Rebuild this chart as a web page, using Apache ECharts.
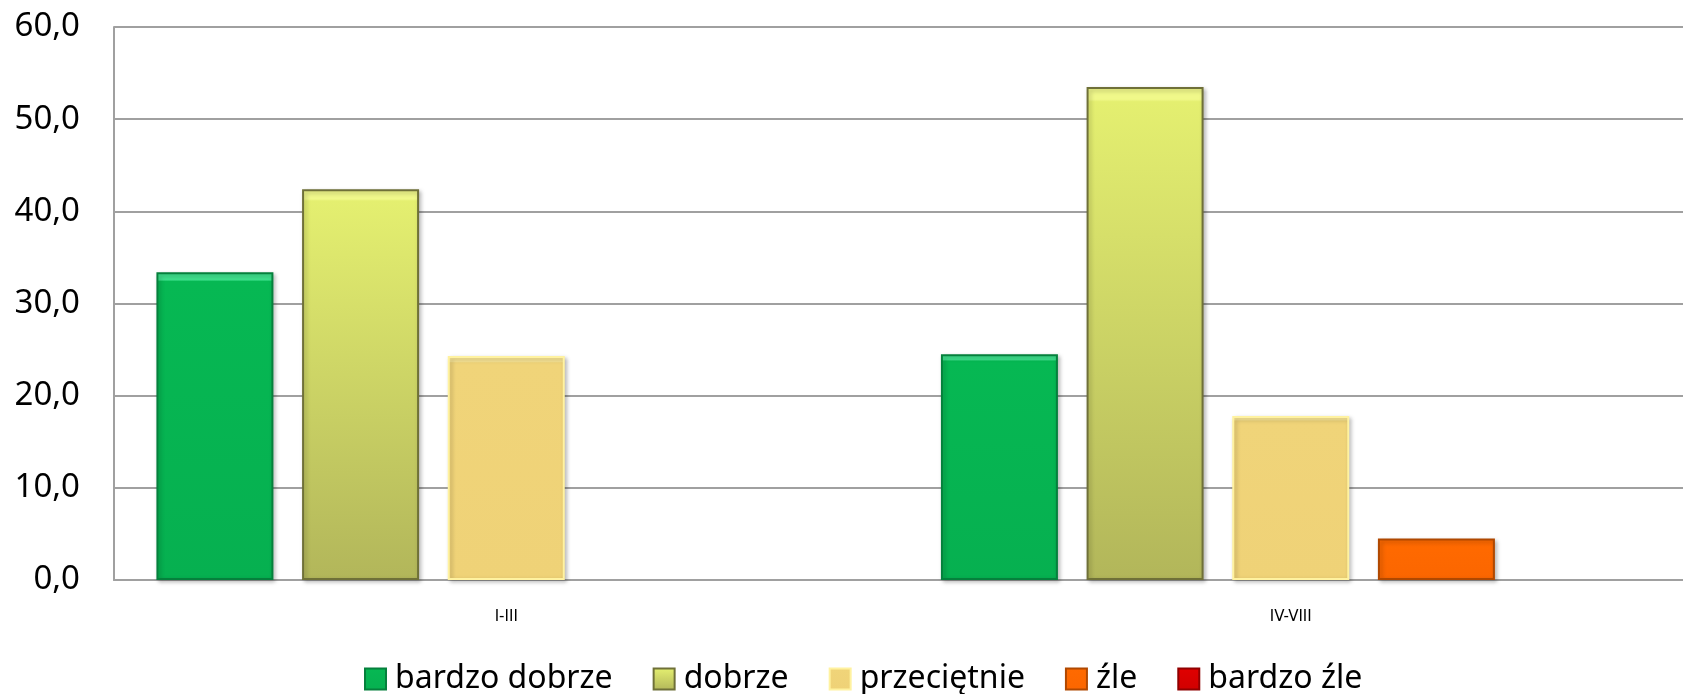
<!DOCTYPE html>
<html lang="pl">
<head>
<meta charset="UTF-8">
<title>Wykres</title>
<style>
  html, body { margin: 0; padding: 0; background: #fff; }
  #box { width: 1683px; height: 694px; }
</style>
<script src="https://cdn.jsdelivr.net/npm/echarts@6/dist/echarts.min.js"></script>
</head>
<body>
<div id="box"></div>
<script>
  var categories = ['I-III', 'IV-VIII'];
  var seriesNames = ['bardzo dobrze', 'dobrze', 'przeciętnie', 'źle', 'bardzo źle'];
  var bardzoDobrze = [33.4, 24.5];
  var dobrze = [42.4, 53.5];
  var przecietnie = [24.3, 17.8];
  var zle = [0, 4.5];
  var bardzoZle = [0, 0];
  var yTicks = [0, 10, 20, 30, 40, 50, 60];

  var values = [bardzoDobrze, dobrze, przecietnie, zle, bardzoZle];

  // fill gradients + border colour for the bevelled look
  var looks = [
    { top: '#3ee08c', mid: '#06b853', bottom: '#06b050', border: '#05803c' },
    { top: '#f0f88a', mid: '#e4ef70', bottom: '#b2b65a', border: '#6f7038' },
    { top: '#f8e494', mid: '#f0d479', bottom: '#efd277', border: '#fff2a0' },
    { top: '#ff9a40', mid: '#ff6a00', bottom: '#fb6600', border: '#b04800' },
    { top: '#ff4040', mid: '#e00000', bottom: '#d00000', border: '#900000' }
  ];

  var box = document.querySelector('#box');
  var myChart = echarts.init(box);

  var series = [];
  for (let i = 0; i < seriesNames.length; i++) {
    let lk = looks[i];
    series.push({
      name: seriesNames[i],
      type: 'bar',
      // a zero bar is not drawn in the original
      data: values[i].map(function (v) { return v === 0 ? null : v; }),
      barWidth: 117,
      barGap: '24.5%',
      itemStyle: {
        color: new echarts.graphic.LinearGradient(0, 0, 0, 1, [
          { offset: 0, color: lk.top },
          { offset: 0.025, color: lk.top },
          { offset: 0.03, color: lk.mid },
          { offset: 1, color: lk.bottom }
        ]),
        borderColor: lk.border,
        borderWidth: 2,
        shadowColor: 'rgba(0,0,0,0.25)',
        shadowBlur: 4,
        shadowOffsetX: 2,
        shadowOffsetY: 2
      }
    });
  }

  var option = {
    animation: false,
    grid: {
      left: 114,
      right: -9,
      top: 27,
      bottom: 114
    },
    legend: {
      data: seriesNames,
      icon: 'rect',
      bottom: -6,
      left: 359,
      itemWidth: 21,
      itemHeight: 21,
      itemGap: 40,
      textStyle: {
        fontFamily: 'Noto Sans',
        fontSize: 32,
        color: '#000',
        padding: [0, 0, 0, 4]
      }
    },
    xAxis: {
      type: 'category',
      data: categories,
      axisLine: { lineStyle: { color: '#a0a0a0', width: 2 } },
      axisTick: { show: false },
      axisLabel: {
        margin: 30,
        fontFamily: 'DejaVu Sans',
        fontSize: 15,
        color: '#000'
      }
    },
    yAxis: {
      type: 'value',
      min: yTicks[0],
      max: yTicks[yTicks.length - 1],
      interval: 10,
      axisLine: { show: true, lineStyle: { color: '#a0a0a0', width: 2 } },
      axisTick: { show: false },
      splitLine: { lineStyle: { color: '#a0a0a0', width: 2 } },
      axisLabel: {
        margin: 34,
        fontFamily: 'Noto Sans',
        fontSize: 33,
        color: '#000',
        formatter: function (v) {
          return v.toFixed(1).replace('.', ',');
        }
      }
    },
    series: series
  };

  myChart.setOption(option);
</script>
</body>
</html>
